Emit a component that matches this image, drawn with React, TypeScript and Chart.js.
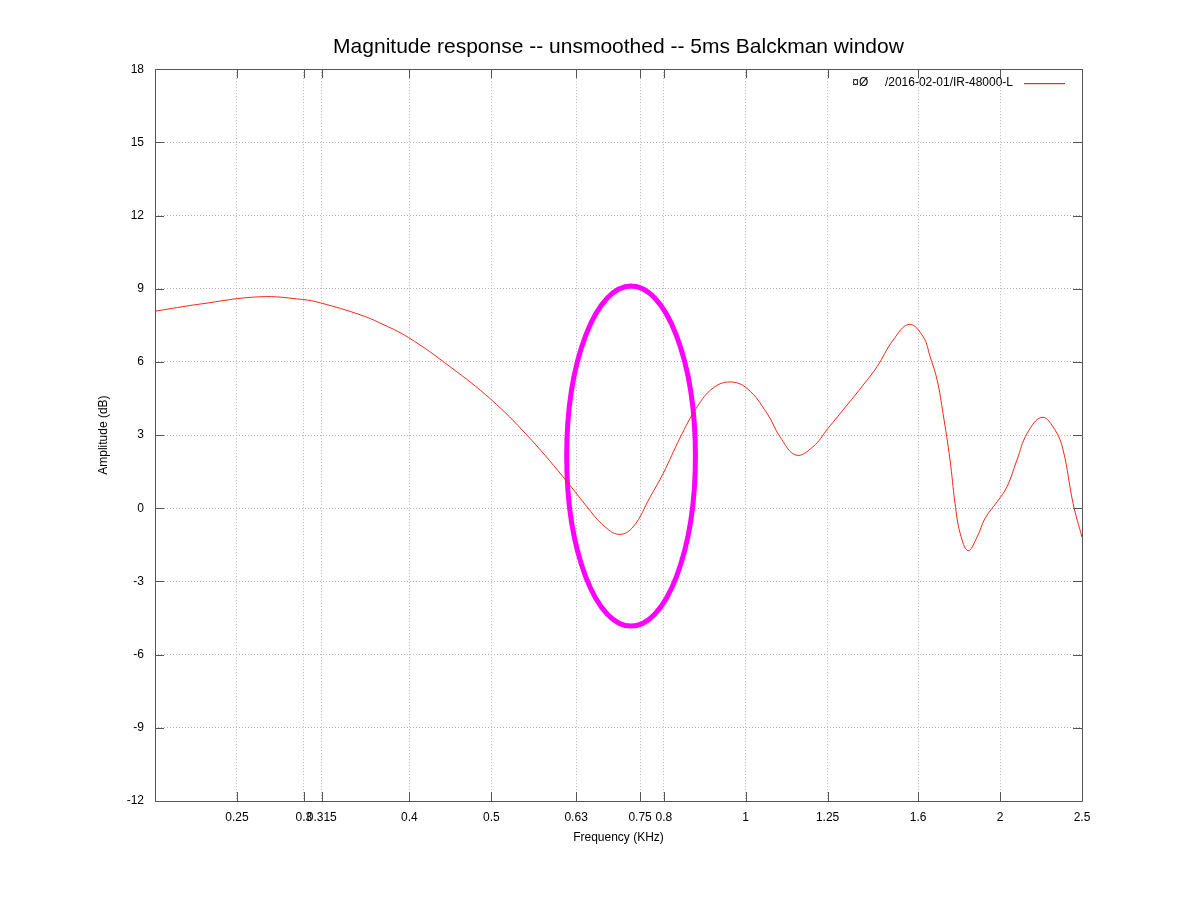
import React, { useEffect, useRef } from 'react';
import { Chart, registerables } from 'chart.js';

Chart.register(...registerables);

const TITLE = 'Magnitude response -- unsmoothed -- 5ms Balckman window';
const SERIES_LABEL = '¤Ø     /2016-02-01/IR-48000-L';
const X_TITLE = 'Frequency (KHz)';
const Y_TITLE = 'Amplitude (dB)';

const FREQUENCY_KHZ = [
  0.2, 0.226, 0.266, 0.299, 0.314, 0.35, 0.369, 0.399, 0.447, 0.5, 0.551,
  0.608, 0.649, 0.678, 0.708, 0.736, 0.771, 0.799, 0.836, 0.876, 0.915,
  0.958, 1.004, 1.06, 1.098, 1.147, 1.201, 1.251, 1.318, 1.377, 1.43,
  1.494, 1.561, 1.622, 1.653, 1.685, 1.712, 1.745, 1.769, 1.794, 1.833,
  1.879, 1.92, 1.984, 2.038, 2.094, 2.153, 2.242, 2.324, 2.375, 2.44, 2.5,
];
const AMPLITUDE_DB = [
  8.08, 8.37, 8.67, 8.56, 8.42, 7.93, 7.6, 7.0, 5.8, 4.45, 3.0,
  1.29, 0.06, -0.69, -1.07, -0.76, 0.47, 1.44, 2.88, 4.16, 4.93,
  5.18, 4.91, 3.89, 2.93, 2.18, 2.52, 3.27, 4.23, 5.05, 5.8,
  6.89, 7.54, 7.03, 6.21, 5.25, 3.89, 1.98, 0.2, -1.03, -1.74,
  -1.17, -0.41, 0.27, 0.88, 1.98, 3.07, 3.73, 3.2, 2.38, 0.2, -1.19,
];

const X_MIN = 0.2;
const X_MAX = 2.5;
const X_TICK_VALUES = [0.25, 0.3, 0.315, 0.4, 0.5, 0.63, 0.75, 0.8, 1, 1.25, 1.6, 2, 2.5];
const Y_MIN = -12;
const Y_MAX = 18;
const Y_STEP = 3;

// highlight ellipse bounds, in data units
const ELLIPSE_FREQ_RANGE = [0.614, 0.872];
const ELLIPSE_DB_RANGE = [-4.83, 9.11];

const FONT = '"Liberation Sans", Arial, Helvetica, sans-serif';
const LINE_COLOR = '#f02818';
const FRAME_COLOR = '#555555';
const GRID_COLOR = '#b4b4b4';

const gnuplotPlugin = {
  id: 'gnuplotDecor',
  beforeDatasetsDraw(chart: any) {
    const { ctx, scales } = chart;
    const x = scales.x;
    const y = scales.y;
    const xl = x.getPixelForValue(ELLIPSE_FREQ_RANGE[0]);
    const xr = x.getPixelForValue(ELLIPSE_FREQ_RANGE[1]);
    const yb = y.getPixelForValue(ELLIPSE_DB_RANGE[0]);
    const yt = y.getPixelForValue(ELLIPSE_DB_RANGE[1]);
    ctx.save();
    ctx.beginPath();
    ctx.ellipse((xl + xr) / 2, (yt + yb) / 2, (xr - xl) / 2, (yb - yt) / 2, 0, 0, Math.PI * 2);
    ctx.strokeStyle = '#ff00ff';
    ctx.lineWidth = 5;
    ctx.stroke();
    ctx.restore();
  },
  afterDraw(chart: any) {
    const { ctx, chartArea, scales } = chart;
    const { left, right, top, bottom } = chartArea;
    ctx.save();
    ctx.strokeStyle = FRAME_COLOR;
    ctx.lineWidth = 1;
    ctx.setLineDash([]);
    ctx.beginPath();
    ctx.rect(Math.round(left) + 0.5, Math.round(top) + 0.5, Math.round(right - left), Math.round(bottom - top));
    ctx.stroke();
    const tl = 9;
    ctx.beginPath();
    for (const t of scales.x.ticks) {
      const px = Math.round(scales.x.getPixelForValue(t.value)) + 0.5;
      ctx.moveTo(px, bottom);
      ctx.lineTo(px, bottom - tl);
      ctx.moveTo(px, top);
      ctx.lineTo(px, top + tl);
    }
    for (const t of scales.y.ticks) {
      const py = Math.round(scales.y.getPixelForValue(t.value)) + 0.5;
      ctx.moveTo(left, py);
      ctx.lineTo(left + tl, py);
      ctx.moveTo(right, py);
      ctx.lineTo(right - tl, py);
    }
    ctx.stroke();

    // legend (inside plot, top right)
    const ds = chart.data.datasets[0];
    const ly = Math.round(top + 14);
    ctx.font = `12px ${FONT}`;
    ctx.fillStyle = '#000';
    ctx.textAlign = 'right';
    ctx.textBaseline = 'middle';
    ctx.fillText(ds.label, right - 69, ly);
    ctx.fillStyle = LINE_COLOR;
    ctx.fillRect(right - 58, ly, 41, 1.2);
    ctx.restore();
  },
};

export default function App() {
  const canvasRef = useRef<HTMLCanvasElement | null>(null);

  useEffect(() => {
    const canvas = canvasRef.current;
    if (!canvas) return;
    Chart.defaults.font.family = FONT;
    const points = FREQUENCY_KHZ.map((f, i) => ({ x: f, y: AMPLITUDE_DB[i] }));
    const gridOpts = {
      color: GRID_COLOR,
      lineWidth: 1,
      drawTicks: false,
      borderDash: [1, 2],
    };
    const chart = new Chart(canvas, {
      type: 'line',
      data: {
        datasets: [
          {
            label: SERIES_LABEL,
            data: points,
            borderColor: LINE_COLOR,
            backgroundColor: LINE_COLOR,
            borderWidth: 1,
            pointRadius: 0,
            fill: false,
            tension: 0.4,
          },
        ],
      },
      options: {
        responsive: false,
        animation: false,
        layout: { padding: { left: 0, right: 116, top: 0, bottom: 0 } },
        plugins: {
          legend: { display: false },
          tooltip: { enabled: false },
          title: {
            display: true,
            text: TITLE,
            fullSize: false,
            color: '#000',
            font: { size: 21, weight: 'normal', family: FONT, lineHeight: 1.2 },
            padding: { top: 35, bottom: 9 },
          },
        },
        scales: {
          x: {
            type: 'logarithmic',
            min: X_MIN,
            max: X_MAX,
            afterBuildTicks: (axis: any) => {
              axis.ticks = X_TICK_VALUES.map((value) => ({ value }));
            },
            afterFit: (axis: any) => {
              axis.height = 97;
            },
            ticks: {
              autoSkip: false,
              maxRotation: 0,
              minRotation: 0,
              padding: 9,
              color: '#000',
              font: { size: 12, family: FONT },
              callback: (v: any) => String(v),
            },
            grid: gridOpts,
            border: { display: false, dash: [1, 2] },
            title: {
              display: true,
              text: X_TITLE,
              color: '#000',
              font: { size: 12, family: FONT },
              padding: { top: 0, bottom: 53 },
            },
          },
          y: {
            type: 'linear',
            min: Y_MIN,
            max: Y_MAX,
            afterFit: (axis: any) => {
              axis.width = 155;
            },
            ticks: {
              stepSize: Y_STEP,
              padding: 11,
              color: '#000',
              font: { size: 12, family: FONT },
            },
            grid: gridOpts,
            border: { display: false, dash: [1, 2] },
            title: {
              display: true,
              text: Y_TITLE,
              color: '#000',
              font: { size: 12, family: FONT },
              padding: { top: 96, bottom: 0 },
            },
          },
        },
      } as any,
      plugins: [gnuplotPlugin],
    });
    return () => chart.destroy();
  }, []);

  return (
    <div style={{ position: 'absolute', left: 0, top: 0, width: 1198, height: 898, background: '#fff' }}>
      <canvas ref={canvasRef} width={1198} height={898} style={{ display: 'block' }} />
    </div>
  );
}
